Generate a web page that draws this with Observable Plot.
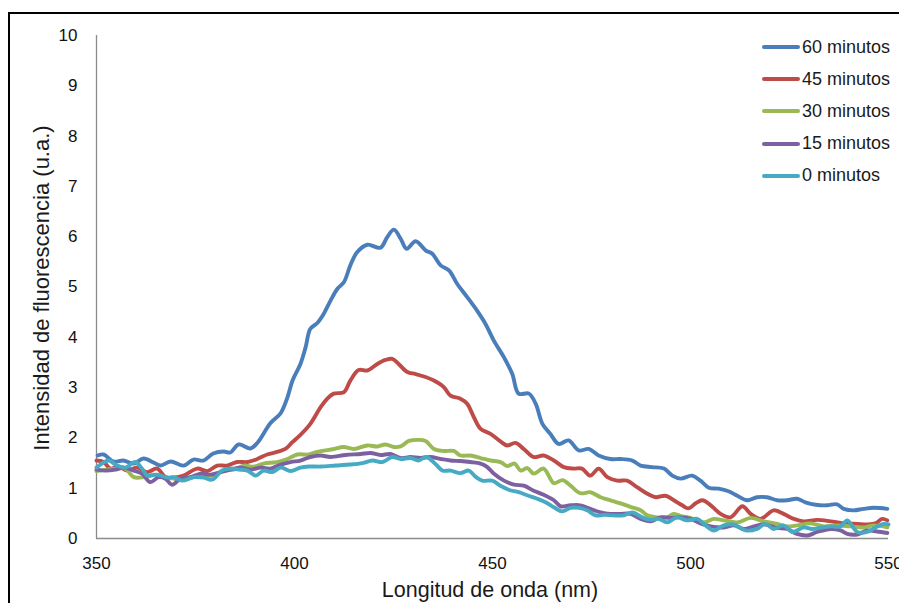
<!DOCTYPE html>
<html>
<head>
<meta charset="utf-8">
<script src="https://cdn.jsdelivr.net/npm/d3@7"></script>
<script src="https://cdn.jsdelivr.net/npm/@observablehq/plot@0.6"></script>
<style>
  html, body { margin: 0; padding: 0; background: #fff; }
  #wrap { position: relative; width: 899px; height: 603px; overflow: hidden; font-family: "Liberation Sans", Arial, sans-serif; }
  #frame { position: absolute; left: 8px; top: 12px; width: 1000px; height: 700px; border: 2.5px solid #000; box-sizing: border-box; }
  #chart { position: absolute; left: 0; top: 0; }
  .lbl { position: absolute; color: #1a1a1a; white-space: nowrap; }
  #ylab { left: 42px; top: 288px; font-size: 22px; transform: translate(-50%, -50%) rotate(-90deg); }
  #xlab { left: 490px; top: 590px; font-size: 21.5px; transform: translate(-50%, -50%); }
  #legend { position: absolute; left: 762px; top: 31px; font-size: 18px; color: #1a1a1a; }
  .item { display: flex; align-items: center; height: 32.2px; }
  .sw { width: 38px; height: 4px; border-radius: 2px; margin-right: 2px; }
</style>
</head>
<body>
<div id="wrap">
  <div id="frame"></div>
  <div id="chart"></div>
  <div id="ylab" class="lbl">Intensidad de fluorescencia (u.a.)</div>
  <div id="xlab" class="lbl">Longitud de onda (nm)</div>
  <div id="legend"></div>
</div>
<script>
// Series names, legend order
const seriesNames = ["60 minutos", "45 minutos", "30 minutos", "15 minutos", "0 minutos"];
const seriesColors = ["#4A7EBB", "#BE4B48", "#98B954", "#7D60A0", "#46AAC5"];

// X tick labels (nm) and y ticks
const xTicks = [350, 400, 450, 500, 550];
const yTicks = [0, 1, 2, 3, 4, 5, 6, 7, 8, 9, 10];

// 60 minutos
const wl60 = [350.3,351.8,354.3,356.8,359.3,361.9,364.4,366.2,368.7,372.0,374.5,377.0,379.5,382.1,383.8,385.9,388.9,390.7,393.9,396.5,398.2,399.5,401.5,402.8,404.0,405.7,407.4,409.1,410.8,412.5,414.1,415.8,418.4,421.7,423.4,425.1,426.8,428.3,430.6,433.1,434.8,436.9,439.0,441.1,443.6,446.1,448.2,450.3,452.9,455.0,456.6,459.2,460.9,462.6,464.6,466.7,469.2,471.8,474.3,476.8,479.8,482.3,485.3,487.4,490.3,493.3,495.4,497.5,500.4,502.5,504.6,507.1,509.6,511.8,514.3,516.8,519.3,521.9,524.4,526.9,529.0,531.6,534.5,537.0,538.7,541.2,543.7,546.3,549.7];
const int60 = [1.65,1.67,1.53,1.55,1.49,1.59,1.51,1.45,1.53,1.45,1.57,1.55,1.69,1.73,1.71,1.87,1.79,1.91,2.29,2.49,2.80,3.14,3.47,3.80,4.17,4.28,4.47,4.73,4.96,5.10,5.43,5.69,5.84,5.78,5.99,6.14,5.96,5.76,5.91,5.73,5.66,5.43,5.33,5.06,4.80,4.53,4.27,3.94,3.60,3.27,2.88,2.88,2.68,2.28,2.08,1.88,1.95,1.75,1.78,1.65,1.58,1.58,1.55,1.45,1.42,1.39,1.25,1.19,1.25,1.15,1.01,0.99,0.94,0.85,0.76,0.82,0.82,0.76,0.76,0.79,0.72,0.67,0.66,0.68,0.59,0.56,0.59,0.61,0.59];

// 45 minutos
const wl45 = [350.0,351.8,353.5,355.6,357.8,360.3,362.8,365.3,367.4,369.5,372.0,375.4,378.0,380.5,383.0,385.5,388.1,390.6,393.1,395.6,397.7,399.4,401.5,404.0,406.6,408.3,409.9,412.5,414.1,416.2,418.4,420.9,423.0,424.7,426.3,428.5,430.6,433.1,435.2,437.7,439.4,441.9,443.6,445.3,447.0,449.5,452.0,453.7,455.8,457.9,460.4,462.9,465.5,468.0,470.5,472.6,474.7,476.8,479.0,481.5,484.0,486.5,489.1,491.2,493.7,495.8,497.9,499.5,501.3,503.0,505.1,507.6,510.1,513.1,515.2,517.7,521.0,523.5,526.1,528.6,532.0,535.4,538.7,542.1,544.6,546.7,548.4,549.7];
const int45 = [1.55,1.52,1.39,1.43,1.35,1.41,1.32,1.39,1.22,1.21,1.25,1.39,1.34,1.45,1.45,1.52,1.52,1.58,1.67,1.72,1.78,1.91,2.06,2.28,2.61,2.78,2.88,2.91,3.14,3.35,3.34,3.47,3.55,3.57,3.47,3.31,3.27,3.21,3.14,3.01,2.84,2.78,2.68,2.41,2.18,2.08,1.93,1.85,1.90,1.78,1.62,1.65,1.55,1.42,1.39,1.39,1.25,1.39,1.22,1.15,1.15,1.02,0.89,0.82,0.85,0.76,0.66,0.60,0.70,0.76,0.66,0.49,0.42,0.64,0.49,0.39,0.56,0.49,0.39,0.34,0.37,0.34,0.30,0.29,0.28,0.30,0.39,0.36];

// 30 minutos
const wl30 = [350.0,352.7,355.2,357.3,359.4,361.9,364.5,367.0,369.5,372.0,374.6,377.1,379.6,382.1,384.7,387.2,389.7,392.2,395.6,398.2,400.7,403.6,405.7,409.9,412.4,415.0,418.4,420.9,423.0,425.1,426.8,428.9,431.0,433.1,435.2,437.7,440.2,441.9,444.4,447.0,449.5,452.0,453.7,455.6,457.1,458.8,460.4,462.9,465.5,467.7,469.7,472.2,474.7,477.3,479.8,482.3,484.8,487.4,489.1,491.6,494.1,495.8,497.9,500.0,503.4,505.9,508.4,511.8,515.2,518.5,521.9,524.4,526.9,530.3,533.7,537.0,540.4,543.7,546.3,549.7];
const int30 = [1.34,1.37,1.39,1.39,1.22,1.22,1.27,1.22,1.19,1.17,1.22,1.25,1.25,1.35,1.37,1.45,1.43,1.49,1.52,1.58,1.67,1.67,1.72,1.78,1.82,1.78,1.85,1.83,1.87,1.82,1.83,1.94,1.96,1.94,1.78,1.74,1.74,1.65,1.65,1.60,1.55,1.52,1.44,1.49,1.35,1.40,1.29,1.39,1.10,1.16,1.05,0.90,0.92,0.82,0.76,0.70,0.63,0.56,0.46,0.42,0.42,0.49,0.44,0.41,0.32,0.39,0.36,0.32,0.41,0.34,0.29,0.24,0.26,0.30,0.24,0.26,0.24,0.22,0.26,0.22];

// 15 minutos
const wl15 = [350.0,352.3,354.8,356.9,359.4,361.5,363.6,365.7,367.4,369.1,371.2,373.7,376.3,378.8,381.3,383.8,386.4,388.9,391.4,393.9,396.5,399.0,401.5,404.0,406.6,409.1,412.9,416.7,419.2,421.7,424.2,426.8,429.3,431.8,434.3,436.9,439.4,441.9,444.4,447.0,448.7,450.3,452.9,455.4,457.9,460.4,462.9,465.5,467.2,469.7,472.2,474.7,477.3,479.8,482.3,484.8,487.4,489.9,492.4,494.9,497.5,500.0,502.5,505.1,508.4,511.0,513.5,516.0,518.5,521.9,524.4,526.9,529.5,532.0,535.4,537.9,539.6,542.1,544.6,547.1,549.7];
const int15 = [1.37,1.35,1.37,1.41,1.35,1.29,1.12,1.22,1.19,1.07,1.19,1.22,1.29,1.27,1.32,1.37,1.41,1.37,1.41,1.39,1.47,1.52,1.55,1.62,1.65,1.62,1.66,1.68,1.70,1.66,1.68,1.60,1.62,1.60,1.62,1.58,1.55,1.54,1.52,1.49,1.42,1.29,1.15,1.07,1.05,0.95,0.87,0.76,0.64,0.66,0.66,0.59,0.52,0.49,0.49,0.49,0.39,0.34,0.42,0.41,0.42,0.39,0.30,0.24,0.22,0.26,0.19,0.24,0.28,0.21,0.19,0.09,0.06,0.13,0.19,0.16,0.09,0.08,0.16,0.14,0.11];

// 0 minutos
const wl0 = [350.0,351.4,353.1,355.2,357.3,359.8,361.5,362.8,365.3,367.9,369.5,371.6,374.6,377.1,379.2,381.7,383.8,385.9,388.1,390.2,392.2,394.4,396.5,399.0,401.5,403.6,406.6,410.4,414.1,417.2,419.7,422.2,424.7,426.8,429.3,431.3,433.3,435.6,437.4,439.4,441.9,444.0,445.7,447.4,449.9,452.0,454.1,456.6,459.1,461.3,463.4,465.5,467.6,469.7,471.8,473.9,476.0,478.1,480.6,483.1,485.3,487.8,489.9,492.0,494.1,496.6,499.1,501.7,503.8,505.9,508.4,510.9,513.9,516.8,518.9,521.0,523.5,525.7,528.6,530.7,533.3,535.4,537.9,539.6,542.1,544.6,546.7,548.8,550.0];
const int0 = [1.41,1.49,1.55,1.45,1.41,1.52,1.39,1.25,1.27,1.21,1.22,1.15,1.22,1.21,1.17,1.35,1.39,1.37,1.35,1.25,1.35,1.32,1.41,1.34,1.41,1.43,1.43,1.45,1.47,1.50,1.55,1.52,1.62,1.58,1.60,1.55,1.62,1.48,1.35,1.35,1.30,1.35,1.23,1.15,1.15,1.05,0.97,0.92,0.85,0.79,0.72,0.62,0.54,0.61,0.61,0.56,0.46,0.47,0.46,0.46,0.52,0.42,0.37,0.39,0.32,0.42,0.36,0.39,0.26,0.16,0.26,0.28,0.16,0.19,0.29,0.19,0.26,0.13,0.22,0.19,0.22,0.24,0.24,0.36,0.13,0.13,0.22,0.29,0.28];

const wls = [wl60, wl45, wl30, wl15, wl0];
const ints = [int60, int45, int30, int15, int0];

const rows = [];
seriesNames.forEach((name, i) => {
  wls[i].forEach((w, j) => rows.push({series: name, wl: w, v: ints[i][j]}));
});

const chart = Plot.plot({
  width: 899,
  height: 603,
  marginLeft: 96,
  marginRight: 11,
  marginTop: 35,
  marginBottom: 65,
  style: {fontFamily: "'Liberation Sans', Arial, sans-serif", fontSize: "17px", color: "#111", background: "transparent", overflow: "visible"},
  x: {domain: [350, 550], ticks: xTicks, label: null},
  y: {domain: [0, 10], ticks: yTicks, label: null},
  color: {domain: seriesNames, range: seriesColors},
  marks: [
    Plot.axisY({ticks: yTicks, tickSize: 0, tickPadding: 19, label: null, fontSize: 17}),
    Plot.axisX({ticks: xTicks, tickSize: 0, tickPadding: 18, label: null, fontSize: 17}),
    Plot.ruleX([350], {stroke: "#8c8c8c", strokeWidth: 1.3}),
    Plot.ruleY([0], {stroke: "#8c8c8c", strokeWidth: 1.3}),
    Plot.line(rows, {x: "wl", y: "v", z: "series", stroke: "series", strokeWidth: 3.9, curve: "catmull-rom", strokeLinejoin: "round", strokeLinecap: "round"})
  ]
});
document.getElementById("chart").appendChild(chart);

const legend = document.getElementById("legend");
seriesNames.forEach((name, i) => {
  const item = document.createElement("div");
  item.className = "item";
  const sw = document.createElement("div");
  sw.className = "sw";
  sw.style.background = seriesColors[i];
  const t = document.createElement("span");
  t.textContent = name;
  item.appendChild(sw);
  item.appendChild(t);
  legend.appendChild(item);
});
</script>
</body>
</html>
